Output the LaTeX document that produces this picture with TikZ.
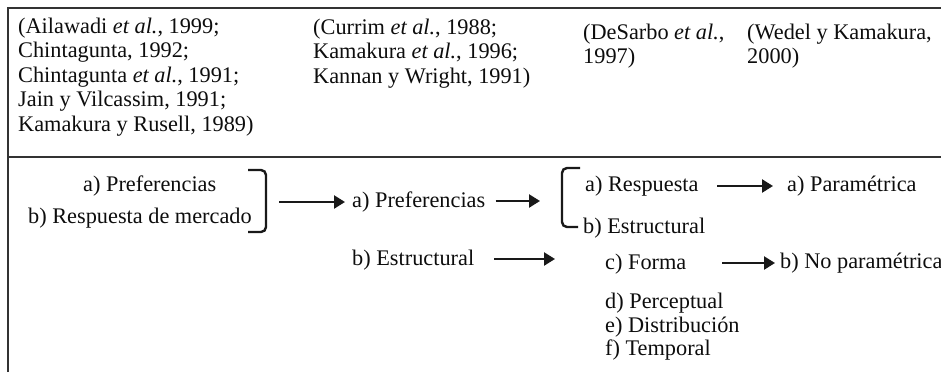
\documentclass[tikz,border=0pt]{standalone}
\usepackage{fontspec}
\setmainfont{Liberation Serif}
\usetikzlibrary{arrows.meta}
\begin{document}
\begin{tikzpicture}[x=1pt,y=-1pt,
  txt/.style={anchor=base west, inner sep=0pt, font=\fontsize{22.3}{24.5}\selectfont, text=black!95},
  frameline/.style={line width=1.6pt, draw=black!80},
  brk/.style={line width=2.4pt, rounded corners=5pt, draw=black!90},
  arr/.style={line width=2.4pt, draw=black!90, -{Triangle[length=11pt,width=13pt]}}
]
\useasboundingbox (0,0) rectangle (941,372);
% frame
\draw[frameline] (8,372) -- (8,8) -- (941,8);
\draw[frameline] (8,157) -- (941,157);
% top row references
\node[txt] (c1a) at (18,33) {(Ailawadi \textit{et al.}, 1999;};
\node[txt] (c1b) at (18,57.5) {Chintagunta, 1992;};
\node[txt] (c1c) at (18,82) {Chintagunta \textit{et al.}, 1991;};
\node[txt] (c1d) at (18,106.5) {Jain y Vilcassim, 1991;};
\node[txt] (c1e) at (18,131) {Kamakura y Rusell, 1989)};
\node[txt] (c2a) at (313,34) {(Currim \textit{et al.}, 1988;};
\node[txt] (c2b) at (313,58.5) {Kamakura \textit{et al.}, 1996;};
\node[txt] (c2c) at (313,83) {Kannan y Wright, 1991)};
\node[txt] (c3a) at (583,39) {(DeSarbo \textit{et al.},};
\node[txt] (c3b) at (583,63.5) {1997)};
\node[txt] (c4a) at (747,39) {(Wedel y Kamakura,};
\node[txt] (c4b) at (747,63.5) {2000)};
% bottom row
\node[txt] (lp1) at (83,191) {a) Preferencias};
\node[txt] (lp2) at (28,223) {b) Respuesta de mercado};
\node[txt] (mp1) at (352,207) {a) Preferencias};
\node[txt] (mp2) at (352,265) {b) Estructural};
\node[txt] (r1) at (585,191) {a) Respuesta};
\node[txt] (r2) at (583,233) {b) Estructural};
\node[txt] (r3) at (605,269) {c) Forma};
\node[txt] (r4) at (605,308) {d) Perceptual};
\node[txt] (r5) at (605,332) {e) Distribución};
\node[txt] (r6) at (605,355) {f) Temporal};
\node[txt] (p1) at (787,191) {a) Paramétrica};
\node[txt] (p2) at (780,268) {b) No paramétrica};
% brackets
\draw[brk] (248,170) -- (266,170) -- (266,232) -- (248,232);
\draw[brk] (580,168) -- (562,168) -- (562,227) -- (578,227);
% connector coordinates
\coordinate (b1tip) at (279,202);
\coordinate (b2in) at (540,201);
\coordinate (b3in) at (555,259);
\coordinate (f4s) at (717,186);
\coordinate (f5s) at (722,263);
% arrows
\draw[arr, shorten >=7pt] (b1tip) -- (b1tip -| mp1.west);
\draw[arr, shorten <=10pt] (mp1.east |- b2in) -- (b2in);
\draw[arr, shorten <=20pt] (mp2.east |- b3in) -- (b3in);
\draw[arr, shorten >=14pt] (f4s) -- (f4s -| p1.west);
\draw[arr, shorten >=5pt] (f5s) -- (f5s -| p2.west);
\end{tikzpicture}
\end{document}
